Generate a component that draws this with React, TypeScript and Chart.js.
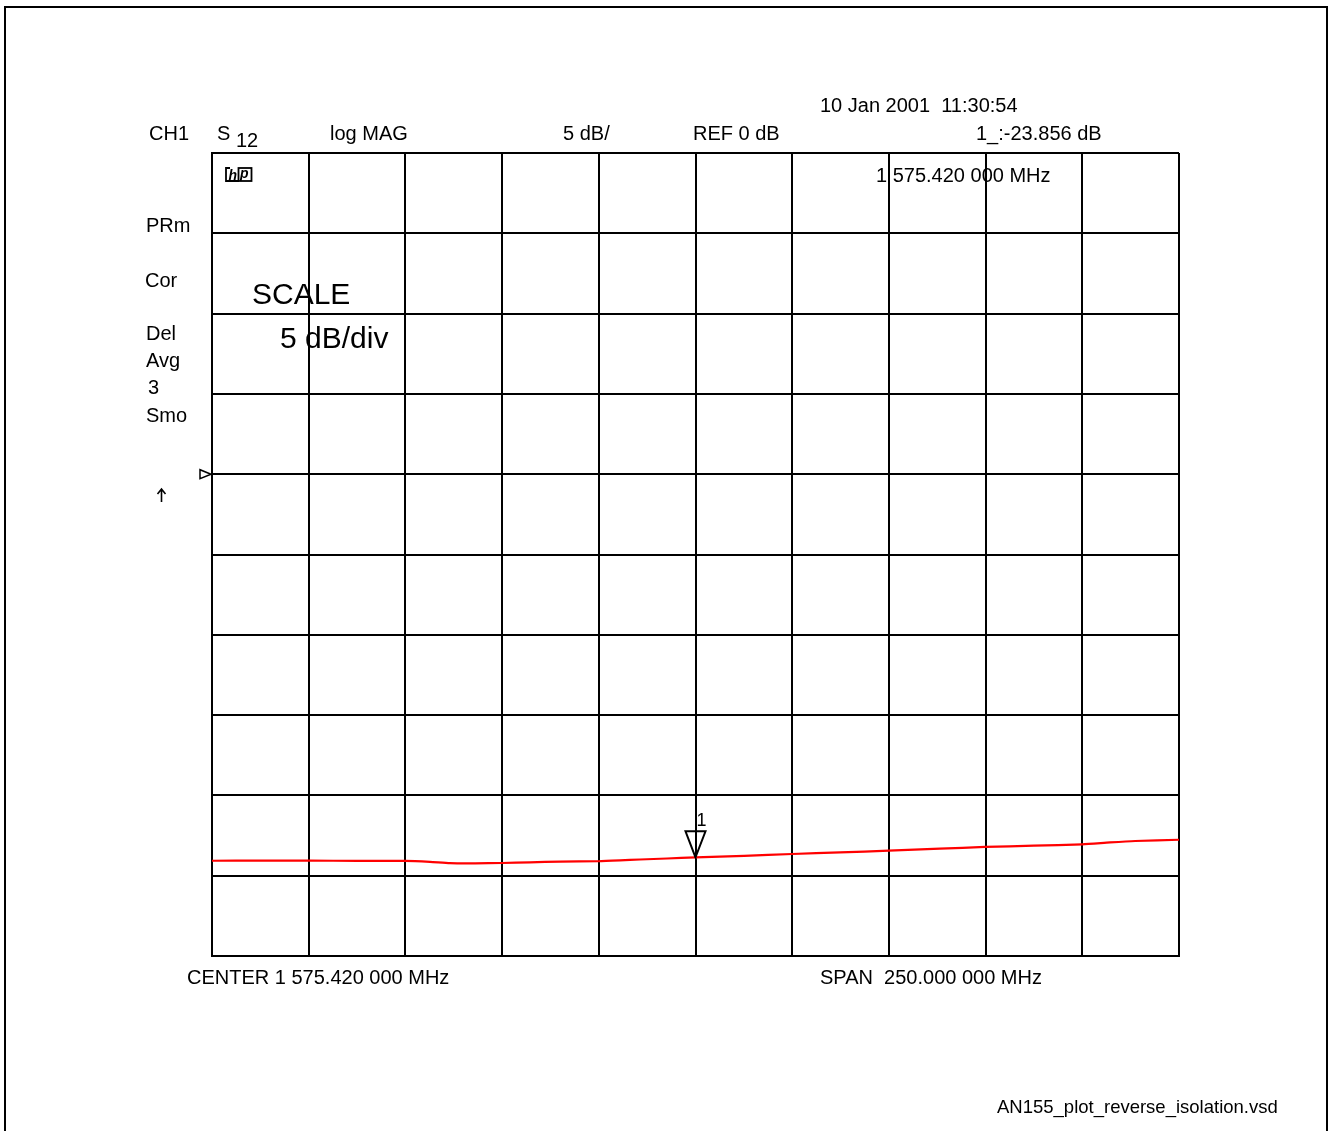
import React, { useEffect, useRef } from "react";
import { Chart, registerables } from "chart.js";

Chart.register(...registerables);

// Network analyser trace: S12 reverse isolation, log magnitude
const frequencyMHz = [
  1450.42, 1462.83, 1475.5, 1487.91, 1500.32, 1506.78, 1511.95, 1518.42, 1525.4,
  1532.64, 1540.4, 1550.22, 1555.91, 1561.08, 1568.06, 1575.42, 1588.0, 1600.42,
  1612.8, 1625.42, 1638.6, 1650.3, 1662.9, 1675.4, 1682.6, 1689.1, 1700.42,
];
const s12dB = [
  -24.07, -24.06, -24.06, -24.08, -24.08, -24.14, -24.22, -24.23, -24.21,
  -24.17, -24.12, -24.1, -24.05, -23.99, -23.93, -23.856, -23.76, -23.65,
  -23.55, -23.44, -23.32, -23.21, -23.13, -23.05, -22.93, -22.84, -22.76,
];

// Graticule: 10 horizontal divisions of 25 MHz, 10 vertical divisions of 5 dB
const freqDivisions = [
  1450.42, 1475.42, 1500.42, 1525.42, 1550.42, 1575.42, 1600.42, 1625.42,
  1650.42, 1675.42, 1700.42,
];
const dbDivisions = [-30, -25, -20, -15, -10, -5, 0, 5, 10, 15, 20];
const refLevelDB = 0;
const markerFreqMHz = 1575.42;
const markerValueDB = -23.856;

const headerLabels = {
  channel: "CH1",
  param: "S",
  paramSub: "12",
  format: "log MAG",
  scale: "5 dB/",
  ref: "REF 0 dB",
  timestamp: "10 Jan 2001  11:30:54",
  markerReadout: "1_:-23.856 dB",
  markerFreq: "1 575.420 000 MHz",
};
const statusLabels = ["PRm", "Cor", "Del", "Avg", "3", "Smo"];
const footerLabels = {
  center: "CENTER 1 575.420 000 MHz",
  span: "SPAN  250.000 000 MHz",
  file: "AN155_plot_reverse_isolation.vsd",
};

const FONT = '"Liberation Sans", Arial, Helvetica, sans-serif';

const annotationPlugin = {
  id: "analyserAnnotations",
  beforeDraw(chart: any) {
    const ctx = chart.ctx as CanvasRenderingContext2D;
    ctx.save();
    ctx.fillStyle = "#000";
    ctx.strokeStyle = "#000";

    // outer page frame
    ctx.lineWidth = 2;
    ctx.beginPath();
    ctx.moveTo(5, 1140);
    ctx.lineTo(5, 7);
    ctx.lineTo(1327, 7);
    ctx.lineTo(1327, 1140);
    ctx.stroke();

    ctx.textBaseline = "alphabetic";
    ctx.textAlign = "left";
    ctx.font = `20px ${FONT}`;
    ctx.fillText(headerLabels.timestamp, 820, 112);
    ctx.fillText(headerLabels.channel, 149, 140);
    ctx.fillText(headerLabels.param, 217, 140);
    ctx.fillText(headerLabels.paramSub, 236, 147);
    ctx.fillText(headerLabels.format, 330, 140);
    ctx.fillText(headerLabels.scale, 563, 140);
    ctx.fillText(headerLabels.ref, 693, 140);
    ctx.fillText(headerLabels.markerReadout, 976, 140);
    ctx.fillText(headerLabels.markerFreq, 876, 182);

    const statusY = [231.5, 286.5, 340, 367, 394, 421.5];
    const statusX = [146, 145, 146, 146, 148, 146];
    statusLabels.forEach((t, i) => ctx.fillText(t, statusX[i], statusY[i]));

    ctx.font = `30px ${FONT}`;
    ctx.fillText("SCALE", 252, 304);
    ctx.fillText("5 dB/div", 280, 348);

    ctx.font = `20px ${FONT}`;
    ctx.fillText(footerLabels.center, 187, 984);
    ctx.fillText(footerLabels.span, 820, 984);
    ctx.font = `18.5px ${FONT}`;
    ctx.fillText(footerLabels.file, 997, 1113);

    // up arrow
    ctx.lineWidth = 1.6;
    ctx.beginPath();
    ctx.moveTo(161.5, 502);
    ctx.lineTo(161.5, 489);
    ctx.moveTo(157.5, 494);
    ctx.lineTo(161.5, 489);
    ctx.lineTo(165.5, 494);
    ctx.stroke();

    // hp logo
    ctx.lineWidth = 1.8;
    ctx.beginPath();
    ctx.moveTo(230, 168);
    ctx.lineTo(226, 168);
    ctx.lineTo(226, 181);
    ctx.lineTo(239, 181);
    ctx.stroke();
    ctx.strokeRect(238.5, 168, 13, 13);
    ctx.font = `italic bold 14px ${FONT}`;
    ctx.fillText("h", 228.5, 179.5);
    ctx.fillText("p", 240, 177.5);
    ctx.restore();
  },
  afterDraw(chart: any) {
    const ctx = chart.ctx as CanvasRenderingContext2D;
    const xs = chart.scales.x;
    const ys = chart.scales.y;
    ctx.save();
    ctx.strokeStyle = "#000";
    ctx.fillStyle = "#000";

    // reference level pointer on the left edge
    const ry = ys.getPixelForValue(refLevelDB);
    const left = chart.chartArea.left;
    ctx.lineWidth = 1.5;
    ctx.beginPath();
    ctx.moveTo(left - 1, ry);
    ctx.lineTo(left - 12, ry - 4.5);
    ctx.lineTo(left - 12, ry + 4.5);
    ctx.closePath();
    ctx.stroke();

    // marker 1
    const mx = xs.getPixelForValue(markerFreqMHz);
    const my = ys.getPixelForValue(markerValueDB);
    ctx.lineWidth = 2;
    ctx.beginPath();
    ctx.moveTo(mx, my);
    ctx.lineTo(mx - 10, my - 26);
    ctx.lineTo(mx + 10, my - 26);
    ctx.closePath();
    ctx.stroke();
    ctx.font = `18px ${FONT}`;
    ctx.textAlign = "left";
    ctx.fillText("1", mx + 1, my - 31);
    ctx.restore();
  },
};

export default function App() {
  const canvasRef = useRef<HTMLCanvasElement | null>(null);

  useEffect(() => {
    if (!canvasRef.current) return;
    const chart = new Chart(canvasRef.current, {
      type: "line",
      data: {
        datasets: [
          {
            label: "S12",
            data: frequencyMHz.map((f, i) => ({ x: f, y: s12dB[i] })),
            borderColor: "#ff0000",
            borderWidth: 2.2,
            pointRadius: 0,
            tension: 0.2,
            fill: false,
          },
        ],
      },
      options: {
        responsive: false,
        animation: false,
        events: [],
        layout: { padding: { left: 212, top: 153, right: 151, bottom: 175 } },
        plugins: {
          legend: { display: false },
          tooltip: { enabled: false },
          title: { display: false },
        },
        scales: {
          x: {
            type: "linear",
            min: freqDivisions[0],
            max: freqDivisions[freqDivisions.length - 1],
            afterBuildTicks: (scale: any) => {
              scale.ticks = freqDivisions.map((v) => ({ value: v }));
            },
            ticks: { display: false },
            grid: { color: "#000", lineWidth: 2, drawTicks: false },
            border: { display: true, color: "#000", width: 2 },
          },
          y: {
            type: "linear",
            min: dbDivisions[0],
            max: dbDivisions[dbDivisions.length - 1],
            afterBuildTicks: (scale: any) => {
              scale.ticks = dbDivisions.map((v) => ({ value: v }));
            },
            ticks: { display: false },
            grid: { color: "#000", lineWidth: 2, drawTicks: false },
            border: { display: true, color: "#000", width: 2 },
          },
        },
      },
      plugins: [annotationPlugin],
    });
    return () => chart.destroy();
  }, []);

  return (
    <div style={{ position: "absolute", left: 0, top: 0, width: 1330, height: 1131, background: "#fff" }}>
      <canvas ref={canvasRef} width={1330} height={1131} style={{ display: "block" }} />
    </div>
  );
}
